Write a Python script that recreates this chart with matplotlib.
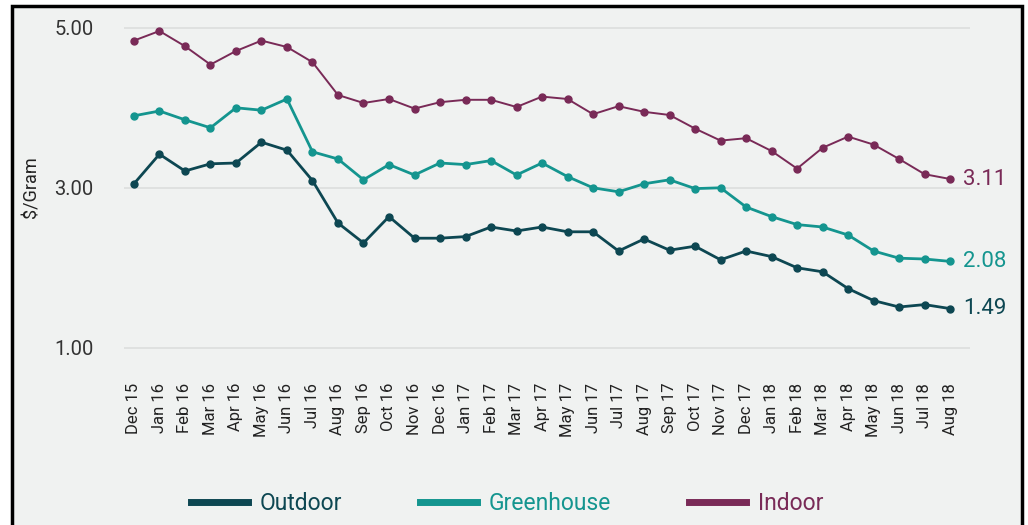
import matplotlib.pyplot as plt
from matplotlib.patches import Rectangle

months = ['Dec 15', 'Jan 16', 'Feb 16', 'Mar 16', 'Apr 16', 'May 16', 'Jun 16', 'Jul 16',
          'Aug 16', 'Sep 16', 'Oct 16', 'Nov 16', 'Dec 16', 'Jan 17', 'Feb 17', 'Mar 17',
          'Apr 17', 'May 17', 'Jun 17', 'Jul 17', 'Aug 17', 'Sep 17', 'Oct 17', 'Nov 17',
          'Dec 17', 'Jan 18', 'Feb 18', 'Mar 18', 'Apr 18', 'May 18', 'Jun 18', 'Jul 18', 'Aug 18']

outdoor = [3.05, 3.42, 3.21, 3.30, 3.31, 3.57, 3.47, 3.09, 2.56, 2.31, 2.64, 2.37, 2.37,
           2.39, 2.51, 2.46, 2.51, 2.45, 2.45, 2.21, 2.36, 2.22, 2.27, 2.10, 2.21, 2.14,
           2.00, 1.95, 1.74, 1.59, 1.51, 1.54, 1.49]
greenhouse = [3.90, 3.96, 3.85, 3.75, 4.00, 3.97, 4.11, 3.45, 3.36, 3.10, 3.29, 3.16, 3.31,
              3.29, 3.34, 3.16, 3.31, 3.14, 3.00, 2.95, 3.05, 3.10, 2.99, 3.00, 2.76, 2.64,
              2.54, 2.51, 2.41, 2.21, 2.12, 2.11, 2.08]
indoor = [4.84, 4.96, 4.77, 4.54, 4.71, 4.84, 4.76, 4.57, 4.16, 4.06, 4.11, 3.99, 4.07,
          4.10, 4.10, 4.01, 4.14, 4.11, 3.92, 4.02, 3.95, 3.91, 3.74, 3.59, 3.62, 3.46,
          3.24, 3.50, 3.64, 3.54, 3.36, 3.17, 3.11]

yticks = [1.00, 3.00, 5.00]

series = [('Outdoor', outdoor, '#0d4752', 2.0),
          ('Greenhouse', greenhouse, '#14958f', 2.0),
          ('Indoor', indoor, '#792a57', 1.4)]

plt.rcParams['font.family'] = ['Roboto', 'DejaVu Sans']

fig = plt.figure(figsize=(10.28, 5.25), dpi=100, facecolor='white')
fig.patches.append(Rectangle((12 / 1028, -0.05), 1010 / 1028, 1.05 - 6 / 525,
                             transform=fig.transFigure, facecolor='#f0f2f1',
                             edgecolor='black', linewidth=2.5, zorder=-10))

ax = fig.add_axes([124 / 1028, 1 - 355 / 525, 846 / 1028, 335 / 525])
ax.set_facecolor('none')

x = list(range(len(months)))
for name, vals, color, lw in series:
    ax.plot(x, vals, color=color, lw=lw, marker='o', markersize=5, label=name)
    ax.text(x[-1] + 0.5, vals[-1], f'{vals[-1]:.2f}', color=color, fontsize=16,
            va='center', ha='left', clip_on=False)

ax.set_xlim(-0.39, 32.78)
ax.set_ylim(5.3475 - 355 / 80, 5.3475 - 20 / 80)
ax.set_yticks(yticks)
ax.set_yticklabels([f'{v:.2f}' for v in yticks], fontsize=14.5, color='#333333')
ax.yaxis.grid(True, color='#dcdedd', lw=1.2)
ax.set_axisbelow(True)
ax.set_xticks(x)
ax.set_xticklabels(months, rotation=90, fontsize=12, color='#222222')
ax.tick_params(axis='both', length=0)
ax.tick_params(axis='x', pad=20)
ax.tick_params(axis='y', pad=22)
for s in ax.spines.values():
    s.set_visible(False)
ax.set_ylabel('$/Gram', fontsize=13, color='#222222', labelpad=10)

leg = fig.legend(loc='center', bbox_to_anchor=(507 / 1028, 1 - 504 / 525), ncol=3,
                 frameon=False, fontsize=16.5, handlelength=2.5, handletextpad=0.5,
                 columnspacing=3.4, labelcolor='linecolor')
for h in leg.legend_handles:
    h.set_marker('')
    h.set_linewidth(5)

fig.savefig('out.png', dpi=100, facecolor=fig.get_facecolor())
